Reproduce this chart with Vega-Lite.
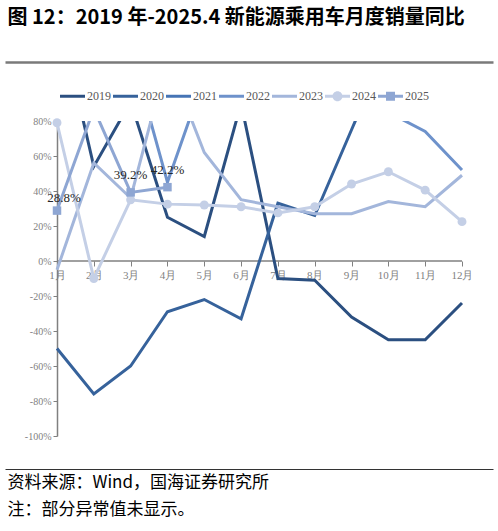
{
  "$schema": "https://vega.github.io/schema/vega-lite/v6.json",
  "width": 488,
  "height": 315,
  "autosize": "none",
  "padding": {"left": 5, "top": 121, "right": 5, "bottom": 95},
  "background": "white",
  "config": {"view": {"stroke": null}, "font": "Liberation Serif"},
  "datasets": {
    "yoy": [
      {"year": "2019", "month": 1, "value": 145}, {"year": "2019", "month": 2, "value": 54}, {"year": "2019", "month": 3, "value": 91},
      {"year": "2019", "month": 4, "value": 25}, {"year": "2019", "month": 5, "value": 14}, {"year": "2019", "month": 6, "value": 90},
      {"year": "2019", "month": 7, "value": -10}, {"year": "2019", "month": 8, "value": -11}, {"year": "2019", "month": 9, "value": -32},
      {"year": "2019", "month": 10, "value": -45}, {"year": "2019", "month": 11, "value": -45}, {"year": "2019", "month": 12, "value": -24},
      {"year": "2020", "month": 1, "value": -50}, {"year": "2020", "month": 2, "value": -76}, {"year": "2020", "month": 3, "value": -60},
      {"year": "2020", "month": 4, "value": -29}, {"year": "2020", "month": 5, "value": -22}, {"year": "2020", "month": 6, "value": -33},
      {"year": "2020", "month": 7, "value": 33}, {"year": "2020", "month": 8, "value": 26}, {"year": "2020", "month": 9, "value": 75},
      {"year": "2020", "month": 10, "value": 124}, {"year": "2020", "month": 11, "value": 113}, {"year": "2020", "month": 12, "value": 82},
      {"year": "2021", "month": 1, "value": 285}, {"year": "2021", "month": 2, "value": 620}, {"year": "2021", "month": 3, "value": 250},
      {"year": "2021", "month": 4, "value": 200}, {"year": "2021", "month": 5, "value": 180}, {"year": "2021", "month": 6, "value": 170},
      {"year": "2021", "month": 7, "value": 170}, {"year": "2021", "month": 8, "value": 190}, {"year": "2021", "month": 9, "value": 180},
      {"year": "2021", "month": 10, "value": 140}, {"year": "2021", "month": 11, "value": 130}, {"year": "2021", "month": 12, "value": 135},
      {"year": "2022", "month": 1, "value": 132}, {"year": "2022", "month": 2, "value": 189}, {"year": "2022", "month": 3, "value": 121},
      {"year": "2022", "month": 4, "value": 45}, {"year": "2022", "month": 5, "value": 105}, {"year": "2022", "month": 6, "value": 141},
      {"year": "2022", "month": 7, "value": 117}, {"year": "2022", "month": 8, "value": 111}, {"year": "2022", "month": 9, "value": 93},
      {"year": "2022", "month": 10, "value": 85}, {"year": "2022", "month": 11, "value": 74}, {"year": "2022", "month": 12, "value": 52},
      {"year": "2023", "month": 1, "value": -5}, {"year": "2023", "month": 2, "value": 56}, {"year": "2023", "month": 3, "value": 36},
      {"year": "2023", "month": 4, "value": 116}, {"year": "2023", "month": 5, "value": 62}, {"year": "2023", "month": 6, "value": 35},
      {"year": "2023", "month": 7, "value": 31}, {"year": "2023", "month": 8, "value": 27}, {"year": "2023", "month": 9, "value": 27},
      {"year": "2023", "month": 10, "value": 34}, {"year": "2023", "month": 11, "value": 31}, {"year": "2023", "month": 12, "value": 49},
      {"year": "2024", "month": 1, "value": 79}, {"year": "2024", "month": 2, "value": -10}, {"year": "2024", "month": 3, "value": 35},
      {"year": "2024", "month": 4, "value": 32.5}, {"year": "2024", "month": 5, "value": 32}, {"year": "2024", "month": 6, "value": 31},
      {"year": "2024", "month": 7, "value": 27.5}, {"year": "2024", "month": 8, "value": 31}, {"year": "2024", "month": 9, "value": 44},
      {"year": "2024", "month": 10, "value": 51}, {"year": "2024", "month": 11, "value": 40.5}, {"year": "2024", "month": 12, "value": 22.5},
      {"year": "2025", "month": 1, "value": 28.8}, {"year": "2025", "month": 2, "value": 87}, {"year": "2025", "month": 3, "value": 39.2},
      {"year": "2025", "month": 4, "value": 42.2}
    ]
  },
  "resolve": {"axis": {"x": "independent", "y": "independent"}},
  "layer": [
    {
      "data": {"values": [{"zero": 0}]},
      "mark": {"type": "rule", "color": "#808080", "strokeWidth": 1.5},
      "encoding": {
        "x": {
          "datum": 1,
          "type": "quantitative",
          "scale": {"domain": [-0.4124, 12.842], "nice": false, "zero": false},
          "axis": {
            "orient": "top", "offset": 59, "domain": true, "domainColor": "#7a7a7a", "domainWidth": 2.5,
            "ticks": false, "labels": false, "grid": false,
            "title": "图 12：2019 年-2025.4 新能源乘用车月度销量同比",
            "titleFont": "Noto Sans CJK SC", "titleFontSize": 20, "titleFontWeight": "bold", "titleColor": "#000000",
            "titleAlign": "left", "titleBaseline": "alphabetic", "titleX": 2, "titleY": -38.5, "titleAngle": 0
          }
        },
        "x2": {"datum": 12},
        "y": {"field": "zero", "type": "quantitative", "scale": {"domain": [-100, 80], "nice": false, "zero": false}, "axis": null}
      }
    },
    {
      "data": {"name": "yoy"},
      "mark": {"type": "line", "strokeWidth": 3, "clip": true},
      "encoding": {
        "x": {
          "field": "month",
          "type": "quantitative",
          "scale": {"domain": [-0.4124, 12.842], "nice": false, "zero": false},
          "axis": {
            "orient": "bottom", "offset": -175, "domain": false, "grid": false,
            "values": [1, 2, 3, 4, 5, 6, 7, 8, 9, 10, 11, 12],
            "labelExpr": "datum.value + '月'",
            "ticks": true, "tickSize": 5, "tickColor": "#808080", "tickWidth": 1,
            "labelFont": "Liberation Serif", "labelFontSize": 11, "labelColor": "#7f7f7f", "labelPadding": 3,
            "title": null
          }
        },
        "y": {
          "field": "value",
          "type": "quantitative",
          "scale": {"domain": [-100, 80], "nice": false, "zero": false},
          "axis": {
            "orient": "left", "offset": -52, "grid": false,
            "values": [-100, -80, -60, -40, -20, 0, 20, 40, 60, 80],
            "labelExpr": "datum.value + '%'",
            "domainColor": "#808080", "domainWidth": 1.5,
            "tickColor": "#808080", "tickSize": 4, "tickWidth": 1,
            "labelFont": "Liberation Serif", "labelFontSize": 10, "labelColor": "#7f7f7f", "labelPadding": 2,
            "title": null
          }
        },
        "color": {
          "field": "year",
          "type": "nominal",
          "scale": {
            "domain": ["2019", "2020", "2021", "2022", "2023", "2024", "2025"],
            "range": ["#2B4F80", "#36629B", "#4674B5", "#6E92CB", "#A3B6DB", "#C4CFE6", "#8EA6D3"]
          },
          "legend": {
            "orient": "none", "legendX": 55, "legendY": -37.5, "direction": "horizontal", "columns": 7, "title": null,
            "symbolType": "M-1,-0.12H1V0.12H-1Z", "symbolSize": 625, "symbolStrokeWidth": 0,
            "labelFont": "Liberation Serif", "labelFontSize": 12, "labelColor": "#595959", "labelOffset": 2,
            "columnPadding": 2, "padding": 0,
            "encode": {
              "symbols": {
                "update": {
                  "shape": {"signal": "datum.value === '2024' ? 'M-1,-0.12H1V0.12H-1Z M0.4,0A0.4,0.4 0 1,1 -0.4,0A0.4,0.4 0 1,1 0.4,0Z' : datum.value === '2025' ? 'M-1,-0.12H1V0.12H-1Z M-0.36,-0.36H0.36V0.36H-0.36Z' : 'M-1,-0.12H1V0.12H-1Z'"},
                  "fill": {"scale": "color", "field": "value"},
                  "stroke": {"value": "transparent"},
                  "opacity": {"value": 1}
                }
              }
            }
          }
        }
      }
    },
    {
      "data": {"name": "yoy"},
      "transform": [{"filter": "datum.year == '2024' && datum.value <= 80"}],
      "mark": {"type": "point", "shape": "circle", "filled": true, "size": 80, "color": "#C4CFE6", "opacity": 1},
      "encoding": {
        "x": {
          "field": "month",
          "type": "quantitative",
          "scale": {"domain": [-0.4124, 12.842], "nice": false, "zero": false},
          "axis": {
            "orient": "bottom", "offset": 33, "domain": true, "domainColor": "#333333", "domainWidth": 1,
            "ticks": false, "labels": false, "grid": false,
            "title": ["资料来源：Wind，国海证券研究所", "注：部分异常值未显示。"],
            "titleFont": "Noto Sans CJK SC", "titleFontSize": 17, "titleFontWeight": "normal", "titleColor": "#000000",
            "titleAlign": "left", "titleBaseline": "alphabetic", "titleX": 2, "titleY": 18.5, "titleLineHeight": 27, "titleAngle": 0
          }
        },
        "y": {"field": "value", "type": "quantitative", "scale": {"domain": [-100, 80], "nice": false, "zero": false}, "axis": null}
      }
    },
    {
      "data": {"name": "yoy"},
      "transform": [{"filter": "datum.year == '2025' && datum.value <= 80"}],
      "mark": {"type": "point", "shape": "square", "filled": true, "size": 72, "color": "#8EA6D3", "opacity": 1},
      "encoding": {
        "x": {"field": "month", "type": "quantitative", "scale": {"domain": [-0.4124, 12.842], "nice": false, "zero": false}, "axis": null},
        "y": {"field": "value", "type": "quantitative", "scale": {"domain": [-100, 80], "nice": false, "zero": false}, "axis": null}
      }
    },
    {
      "data": {"name": "yoy"},
      "transform": [
        {"filter": "datum.year == '2025' && datum.month >= 3"},
        {"calculate": "format(datum.value, '.1f') + '%'", "as": "label"}
      ],
      "mark": {"type": "text", "font": "Liberation Serif", "fontSize": 13, "color": "#262626", "dy": -17},
      "encoding": {
        "x": {"field": "month", "type": "quantitative", "scale": {"domain": [-0.4124, 12.842], "nice": false, "zero": false}, "axis": null},
        "y": {"field": "value", "type": "quantitative", "scale": {"domain": [-100, 80], "nice": false, "zero": false}, "axis": null},
        "text": {"field": "label", "type": "nominal"}
      }
    },
    {
      "data": {"name": "yoy"},
      "transform": [
        {"filter": "datum.year == '2025' && datum.month == 1"},
        {"calculate": "format(datum.value, '.1f') + '%'", "as": "label"}
      ],
      "mark": {"type": "text", "font": "Liberation Serif", "fontSize": 13, "color": "#262626", "dx": 7, "dy": -13},
      "encoding": {
        "x": {"field": "month", "type": "quantitative", "scale": {"domain": [-0.4124, 12.842], "nice": false, "zero": false}, "axis": null},
        "y": {"field": "value", "type": "quantitative", "scale": {"domain": [-100, 80], "nice": false, "zero": false}, "axis": null},
        "text": {"field": "label", "type": "nominal"}
      }
    }
  ]
}
